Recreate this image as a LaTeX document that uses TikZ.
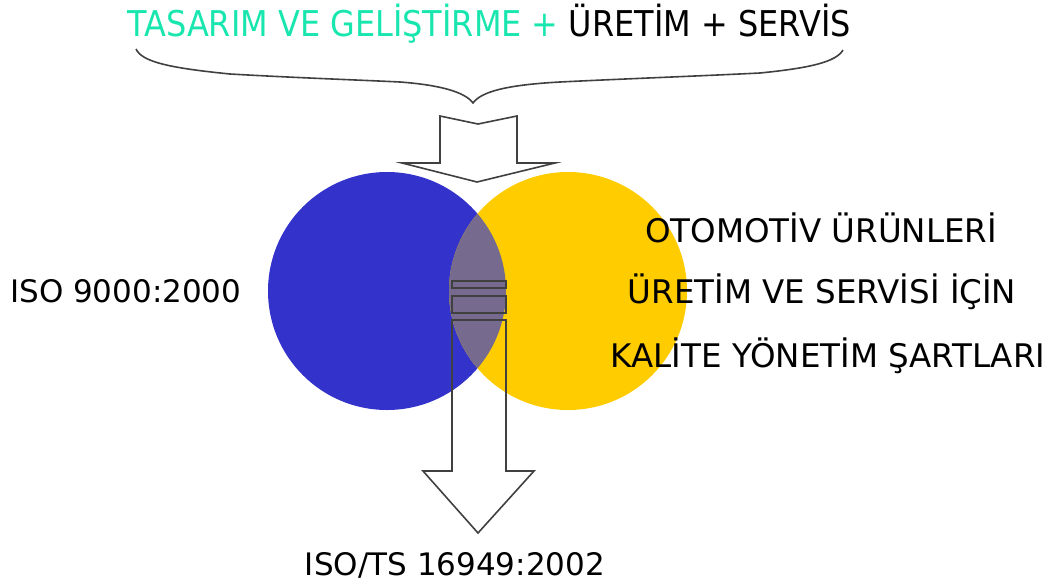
\documentclass[tikz,border=0pt]{standalone}
\usepackage{fontspec}
\setmainfont{DejaVu Sans}
\newfontfamily\topfont[FakeStretch=0.9]{DejaVu Sans}
\definecolor{vblue}{RGB}{51,51,204}
\definecolor{vyellow}{RGB}{255,204,0}
\definecolor{vlens}{RGB}{118,106,142}
\definecolor{vgreen}{RGB}{25,230,175}
\definecolor{vline}{RGB}{64,64,64}
\begin{document}
\begin{tikzpicture}[x=1pt,y=-1pt,
  lbl/.style={inner sep=0pt, anchor=base, font=\fontsize{31}{36}\selectfont},
  rlbl/.style={inner sep=0pt, anchor=base, font=\fontsize{32.5}{38}\selectfont},
  toplbl/.style={inner sep=0pt, anchor=base, font=\topfont\fontsize{35.5}{40}\selectfont},
  outl/.style={draw=vline, line width=1.6pt, line join=miter}]
\useasboundingbox (0,0) rectangle (1052,584);
% circles
\fill[vblue] (387,291) circle (119);
\fill[vyellow] (568,291) circle (119);
\begin{scope}
  \clip (387,291) circle (119);
  \fill[vlens] (568,291) circle (119);
\end{scope}
% top text
\node[toplbl] (top) at (489,36) {\textcolor{vgreen}{TASARIM VE GELİŞTİRME +} ÜRETİM + SERVİS};
% brace
\draw[vline, line width=1.6pt] (136,49) .. controls (142,62) and (170,68) .. (230,74)
  .. controls (300,78) and (360,80) .. (400,82)
  .. controls (440,85) and (465,92) .. (473,103)
  .. controls (481,92) and (505,85) .. (560,82)
  .. controls (620,79) and (700,76) .. (760,73)
  .. controls (810,68) and (836,62) .. (843,50);
% top arrow
\draw[outl] (440,116) -- (478,124) -- (517,116) -- (517,163) -- (555,163)
  -- (477,182) -- (402,163) -- (440,163) -- cycle;
% bottom striped arrow
\draw[outl] (452,281) rectangle (506,288);
\draw[outl] (452,296) rectangle (506,313);
\draw[outl] (452,320) -- (506,320) -- (506,471) -- (534,471) -- (478,533)
  -- (423,471) -- (452,471) -- cycle;
% labels
\node[lbl, anchor=base west] (iso) at (10,302) {ISO 9000:2000};
\node[rlbl] (l1) at (821,242) {OTOMOTİV ÜRÜNLERİ};
\node[rlbl] (l2) at (822,303) {ÜRETİM VE SERVİSİ İÇİN};
\node[rlbl] (l3) at (828,367) {KALİTE YÖNETİM ŞARTLARI};
\node[lbl] (ts) at (455,575) {ISO/TS 16949:2002};
\end{tikzpicture}
\end{document}
